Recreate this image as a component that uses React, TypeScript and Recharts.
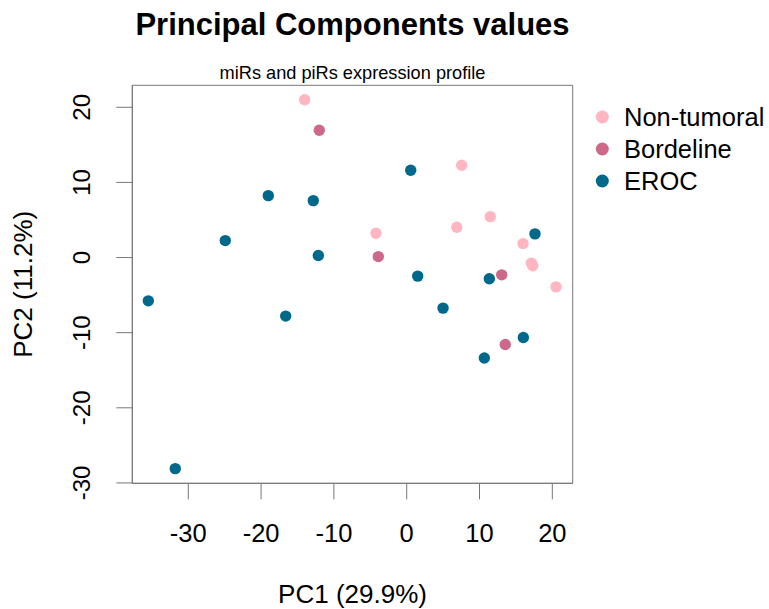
import React from 'react';
import { ScatterChart, Scatter, XAxis, YAxis, ReferenceArea, Label } from 'recharts';

const groups = ['Non-tumoral', 'Bordeline', 'EROC'];
const groupColors = ['#FFB6C1', '#CD6889', '#00688B'];

const nonTumoralPC1 = [-14.01, 7.55, 11.48, 6.87, -4.22, 15.98, 17.12, 17.31, 20.51];
const nonTumoralPC2 = [21.01, 12.29, 5.45, 4.04, 3.24, 1.86, -0.74, -1.1, -3.9];
const bordelinePC1 = [-12.01, -3.9, 13.05, 13.54];
const bordelinePC2 = [16.94, 0.13, -2.3, -11.57];
const erocPC1 = [0.55, -19.01, -12.83, -24.92, 17.62, -12.14, -35.49, -16.62, 1.51, 4.99, 11.35, 16.02, 10.66, -31.79];
const erocPC2 = [11.62, 8.24, 7.58, 2.26, 3.15, 0.27, -5.76, -7.79, -2.47, -6.73, -2.83, -10.64, -13.38, -28.1];

const pc1Ticks = [-30, -20, -10, 0, 10, 20];
const pc2Ticks = [-30, -20, -10, 0, 10, 20];
const pc1Domain = [-37.69, 22.8];
const pc2Domain = [-30.05, 22.93];

const FONT = '"Liberation Sans", Arial, Helvetica, sans-serif';
const AXIS_GREY = '#777';

const toPoints = (xs: number[], ys: number[]) => xs.map((x, i) => ({ pc1: x, pc2: ys[i] }));

const seriesData = [
  toPoints(nonTumoralPC1, nonTumoralPC2),
  toPoints(bordelinePC1, bordelinePC2),
  toPoints(erocPC1, erocPC2),
];

// y tick labels are written vertically, as R does with las = 0
const VerticalTick = (props: any) => {
  const { x, y, payload } = props;
  return (
    <text
      x={x}
      y={y}
      transform={`rotate(-90, ${x}, ${y})`}
      textAnchor="middle"
      fontSize={24}
      fontFamily={FONT}
      fill="#000"
    >
      {payload.value}
    </text>
  );
};

export default function App() {
  return (
    <div style={{ position: 'absolute', left: 0, top: 0, width: 769, height: 609 }}>
      <ScatterChart
        width={769}
        height={609}
        margin={{ top: 85.3, right: 196.3, bottom: 0, left: 0 }}
        style={{ fontFamily: FONT }}
      >
        <XAxis
          type="number"
          dataKey="pc1"
          domain={pc1Domain}
          ticks={pc1Ticks}
          allowDataOverflow
          height={125.7}
          stroke={AXIS_GREY}
          tickSize={16}
          tickMargin={24.3}
          tick={{ fill: '#000', fontSize: 25.5, fontFamily: FONT }}
        >
          <Label
            content={(p: any) => {
              const vb = p.viewBox;
              return (
                <text
                  x={vb.x + vb.width / 2}
                  y={vb.y + vb.height - 5.7}
                  textAnchor="middle"
                  fontSize={26}
                  fontFamily={FONT}
                  fill="#000"
                >
                  PC1 (29.9%)
                </text>
              );
            }}
          />
        </XAxis>
        <YAxis
          type="number"
          dataKey="pc2"
          domain={pc2Domain}
          ticks={pc2Ticks}
          allowDataOverflow
          width={132.3}
          stroke={AXIS_GREY}
          tickSize={16}
          tickMargin={26.5}
          tick={<VerticalTick />}
        >
          <Label
            content={(p: any) => {
              const vb = p.viewBox;
              const cx = vb.x + 32;
              const cy = vb.y + vb.height / 2;
              return (
                <text
                  x={cx}
                  y={cy}
                  transform={`rotate(-90, ${cx}, ${cy})`}
                  textAnchor="middle"
                  fontSize={26}
                  fontFamily={FONT}
                  fill="#000"
                >
                  PC2 (11.2%)
                </text>
              );
            }}
          />
        </YAxis>
        <ReferenceArea
          x1={pc1Domain[0]}
          x2={pc1Domain[1]}
          y1={pc2Domain[0]}
          y2={pc2Domain[1]}
          fill="none"
          stroke={AXIS_GREY}
          strokeWidth={1}
        />
        {seriesData.map((data, i) => (
          <Scatter
            key={groups[i]}
            name={groups[i]}
            data={data}
            isAnimationActive={false}
            shape={(p: any) => <circle cx={p.cx} cy={p.cy} r={5.7} fill={groupColors[i]} />}
          />
        ))}
      </ScatterChart>
      <svg
        width={769}
        height={609}
        style={{ position: 'absolute', left: 0, top: 0, pointerEvents: 'none' }}
      >
        <text x={352.5} y={35} textAnchor="middle" fontSize={31} fontWeight="bold" fontFamily={FONT}>
          Principal Components values
        </text>
        <text x={352.5} y={79} textAnchor="middle" fontSize={18.2} fontFamily={FONT}>
          miRs and piRs expression profile
        </text>
        {groups.map((g, i) => (
          <g key={g}>
            <circle cx={602.3} cy={117 + i * 32} r={6.5} fill={groupColors[i]} />
            <text x={624} y={126.3 + i * 32} fontSize={25.5} fontFamily={FONT} fill="#000">
              {g}
            </text>
          </g>
        ))}
      </svg>
    </div>
  );
}
